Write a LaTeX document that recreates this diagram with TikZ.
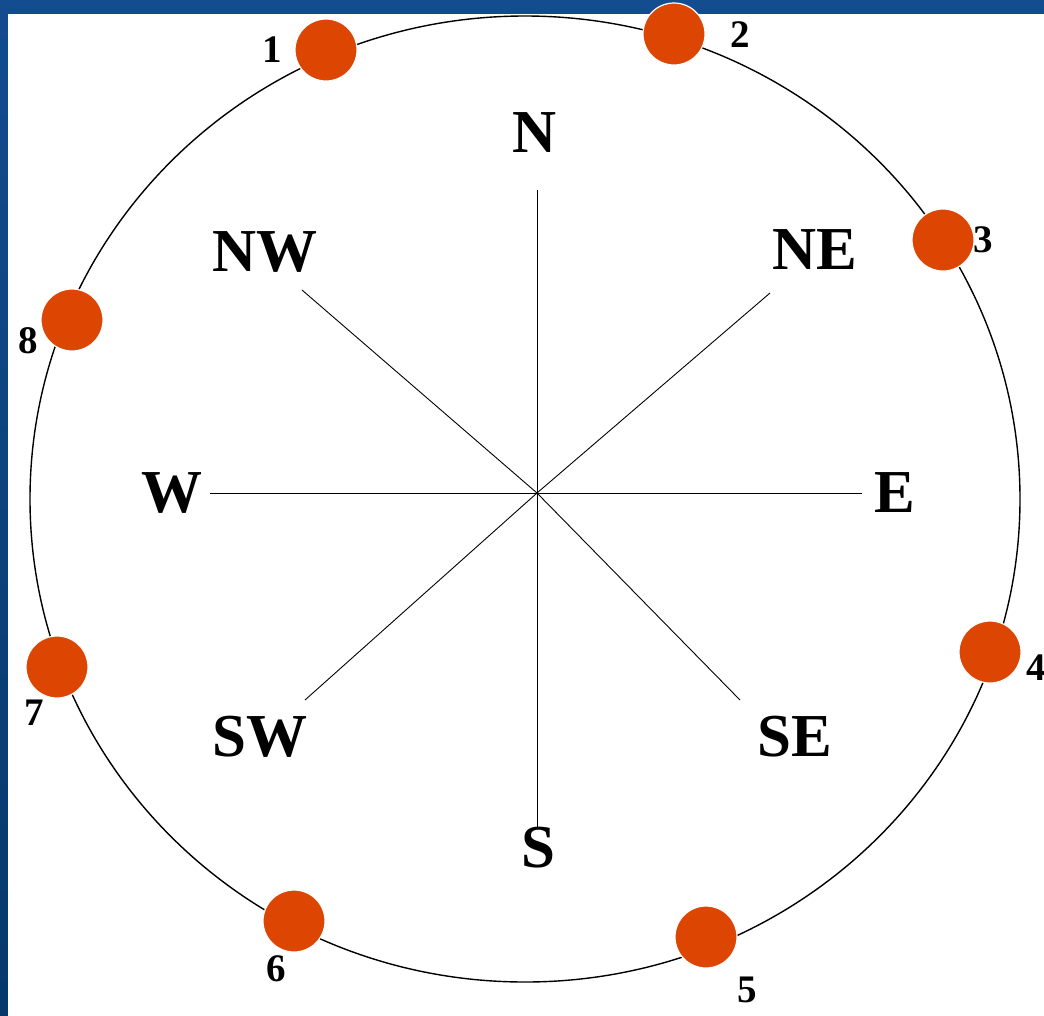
\documentclass[tikz,border=0pt]{standalone}
\usepackage{fontspec}
\setmainfont{Liberation Serif}
\definecolor{bgtop}{HTML}{134C8F}
\definecolor{bgbot}{HTML}{06386A}
\definecolor{dotred}{HTML}{DD4602}
\begin{document}
\begin{tikzpicture}[x=1pt,y=-1pt,
  dir/.style={font=\fontsize{61}{61}\selectfont\bfseries, inner sep=0pt},
  num/.style={font=\fontsize{39}{39}\selectfont\bfseries, inner sep=0pt},
  dotnode/.style={circle, fill=dotred, draw=white, line width=1.2pt, minimum size=62pt, inner sep=0pt},
  ray/.style={line width=0.9pt, black}]
\useasboundingbox (0,0) rectangle (1044,1015);
\shade[top color=bgtop, bottom color=bgbot] (-5,-5) rectangle (1050,1020);
\fill[white] (8,14) rectangle (1050,1020);
% outer circle
\draw[line width=1.4pt] (525,499) ellipse [x radius=495pt, y radius=483pt];
% compass
\coordinate (O) at (537,493);
\coordinate (eN) at (537,190);
\coordinate (eS) at (537,828);
\coordinate (eW) at (210,493);
\coordinate (eE) at (862,493);
\coordinate (eNW) at (302,290);
\coordinate (eNE) at (770,293);
\coordinate (eSW) at (305,700);
\coordinate (eSE) at (740,700);
\foreach \e in {eN,eS,eW,eE,eNW,eNE,eSW,eSE} \draw[ray] (O) -- (\e);
\node[dir] (N) at (535,133) {N};
\node[dir] (S) at (538,848) {S};
\node[dir] (W) at (172,493) {W};
\node[dir] (E) at (895,493) {E};
\node[dir] (NW) at (265,252) {NW};
\node[dir] (NE) at (815,250) {NE};
\node[dir] (SW) at (260,737) {SW};
\node[dir] (SE) at (795,737) {SE};
% dots
\node[dotnode] (d1) at (326,50) {};
\node[dotnode] (d2) at (674,34) {};
\node[dotnode] (d3) at (943,240) {};
\node[dotnode] (d4) at (990,652) {};
\node[dotnode] (d5) at (706,937) {};
\node[dotnode] (d6) at (294,921) {};
\node[dotnode] (d7) at (57,667) {};
\node[dotnode] (d8) at (72,320) {};
\node[num] (n1) at (272,50) {1};
\node[num] (n2) at (740,35) {2};
\node[num] (n3) at (983,240) {3};
\node[num] (n4) at (1036,668) {4};
\node[num] (n5) at (747,990) {5};
\node[num] (n6) at (276,969) {6};
\node[num] (n7) at (34,713) {7};
\node[num] (n8) at (28,341) {8};
\end{tikzpicture}
\end{document}
